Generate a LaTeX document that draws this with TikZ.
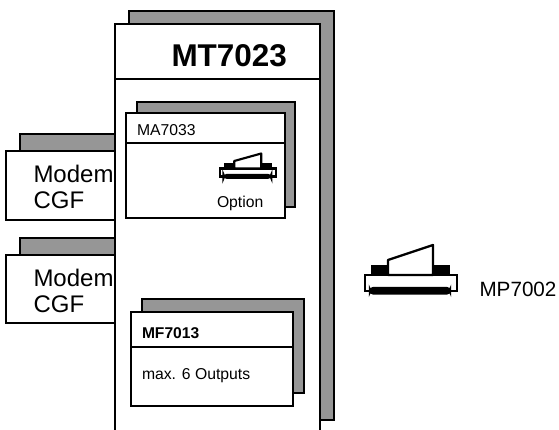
\documentclass[tikz,border=0pt]{standalone}
\usepackage{fontspec}
\setmainfont{Liberation Sans}
\definecolor{ShadowGray}{RGB}{150,150,150}
\tikzset{
  fbox/.style    ={rectangle, draw=black, line width=1.7pt, fill=white,
                   anchor=north west, inner sep=0pt, outer sep=0pt},
  fboxgray/.style={fbox, fill=ShadowGray},
  lab/.style     ={anchor=base west, inner sep=0pt, outer sep=0pt, text=black},
  labbig/.style  ={lab, font=\fontsize{23.6}{26}\selectfont\bfseries},
  labmodem/.style={lab, anchor=west, align=left, font=\fontsize{18}{19.5}\selectfont},
  labsmall/.style={lab, font=\fontsize{11.8}{14}\selectfont},
  labbold/.style ={lab, font=\fontsize{11.7}{14}\selectfont\bfseries},
  printer/.pic={
    \draw[fill=white] (-46,5) rectangle (46,21);
    \draw[fill=black,rounded corners=2.5pt] (-41,18) rectangle (39,23.5);
    \draw[fill=black] (-38.5,-4) rectangle (-24,5);
    \draw[fill=black] (22,-4) rectangle (37.5,5);
    \draw[fill=white,line join=round] (-23,5) -- (-23,-10) -- (22,-25) -- (22,5) -- cycle;
  },
}

\begin{document}
\begin{tikzpicture}[x=0.75pt,y=-0.75pt]
  \clip (0,0) rectangle (559,429);

  % modem cards
  \node[fboxgray,minimum width=71.25pt,minimum height=12.75pt] (s1) at (20,134) {};
  \node[fbox,minimum width=81.75pt,minimum height=51.75pt]     (m1) at (6,151) {};
  \node[fboxgray,minimum width=71.25pt,minimum height=12.75pt] (s2) at (20,238) {};
  \node[fbox,minimum width=81.75pt,minimum height=51pt]        (m2) at (6,255) {};
  \node[labmodem] (t1) at (33.5,187) {Modem\\CGF};
  \node[labmodem] (t2) at (33.5,291) {Modem\\CGF};

  % main unit
  \node[fboxgray,minimum width=153.75pt,minimum height=306.75pt] (mts) at (129,11) {};
  \node[fbox,minimum width=153.75pt,minimum height=41.25pt]      (mth) at (115,24) {};
  \node[fbox,minimum width=153.75pt,minimum height=300pt]        (mtb) at (115,79) {};
  \node[labbig] (mtl) at (171.5,66) {MT7023};

  % option card
  \node[fboxgray,minimum width=118.5pt,minimum height=78.75pt] (mas) at (137,102) {};
  \node[fbox,minimum width=119.25pt,minimum height=22.5pt]     (mah) at (126,113) {};
  \node[fbox,minimum width=119.25pt,minimum height=56.25pt]    (mab) at (126,143) {};
  \node[labsmall] (mal) at (137,135) {MA7033};
  \node[labsmall] (opt) at (217,207) {Option};
  \pic[xscale=.6,yscale=.5,line width=1.6pt] at (248,166) {printer};

  % output card
  \node[fboxgray,minimum width=121.5pt,minimum height=70.5pt] (mfs) at (142,299) {};
  \node[fbox,minimum width=121.5pt,minimum height=26.25pt]    (mfh) at (131,312) {};
  \node[fbox,minimum width=121.5pt,minimum height=44.25pt]    (mfb) at (131,347) {};
  \node[labbold]  (mfl) at (142,338) {MF7013};
  \node[labsmall] (out) at (142,379) {max. 6 Outputs};

  % external printer
  \pic[line width=1.7pt] at (411,270) {printer};
  \node[lab,font=\fontsize{15.5}{18}\selectfont] (mpl) at (479.5,296.5) {MP7002};
\end{tikzpicture}
\end{document}
